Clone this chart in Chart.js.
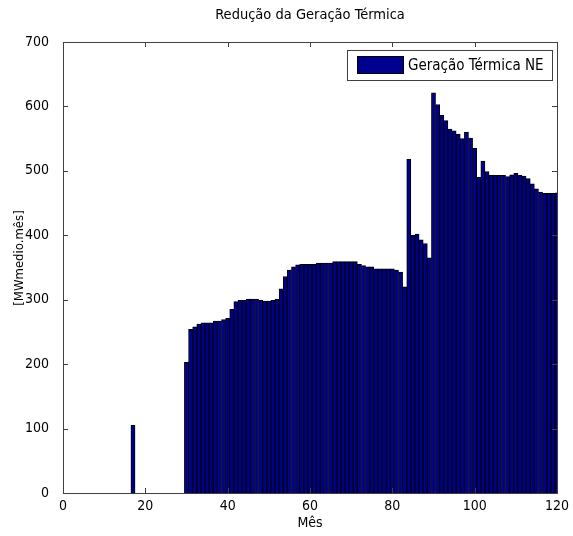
<!DOCTYPE html>
<html>
<head>
<meta charset="utf-8">
<script src="https://cdn.jsdelivr.net/npm/chart.js@4.4.1/dist/chart.umd.min.js"></script>
<style>
  body { margin: 0; background: #fff; }
  canvas { display: block; }
</style>
</head>
<body>
<canvas id="grafico" width="573" height="536"></canvas>
<script>
// valores (MWmedio.mes por mes, 1..120)
const geracaoNE = [
  0, 0, 0, 0, 0, 0, 0, 0, 0, 0,
  0, 0, 0, 0, 0, 0, 105, 0, 0, 0,
  0, 0, 0, 0, 0, 0, 0, 0, 0, 203,
  254, 258, 262, 264, 264, 264, 267, 267, 269, 271,
  285, 297, 299, 299, 301, 301, 301, 299, 298, 298,
  299, 301, 317, 336, 346, 351, 354, 355, 355, 355,
  355, 357, 357, 357, 357, 359, 359, 359, 359, 359,
  359, 355, 353, 351, 351, 348, 348, 348, 348, 348,
  346, 343, 320, 518, 400, 402, 393, 387, 365, 621,
  603, 586, 578, 565, 562, 557, 550, 560, 551, 535,
  490, 515, 499, 493, 493, 493, 493, 491, 494, 496,
  493, 492, 488, 480, 472, 467, 465, 465, 465, 466
];
const meses = [];
for (let i = 0; i < geracaoNE.length; i++) {
  meses.push(i + 1);
}
const ticksX = [0, 20, 40, 60, 80, 100, 120];
const ticksY = [0, 100, 200, 300, 400, 500, 600, 700];

const titulo = "Redução da Geração Térmica";
const rotuloX = "Mês";
const rotuloY = "[MWmedio.mês]";
const nomeSerie = "Geração Térmica NE";

const fonte = "'DejaVu Sans Condensed', 'Liberation Sans', sans-serif";
const corBarra = "#00008f";
const corEixo = "#404040";

// moldura, ticks para dentro, titulos e legenda no estilo do matlab
const estiloMatlab = {
  id: "estiloMatlab",
  afterDraw(chart) {
    const ctx = chart.ctx;
    const area = chart.chartArea;
    const sx = chart.scales.x;
    const sy = chart.scales.y;

    ctx.save();
    ctx.strokeStyle = corEixo;
    ctx.lineWidth = 1;
    ctx.strokeRect(Math.round(area.left) + 0.5, Math.round(area.top) + 0.5,
      Math.round(area.right - area.left), Math.round(area.bottom - area.top));

    ctx.beginPath();
    ticksX.forEach(function (v) {
      const px = Math.round(sx.getPixelForValue(v)) + 0.5;
      ctx.moveTo(px, area.bottom);
      ctx.lineTo(px, area.bottom - 5);
      ctx.moveTo(px, area.top);
      ctx.lineTo(px, area.top + 5);
    });
    ticksY.forEach(function (v) {
      const py = Math.round(sy.getPixelForValue(v)) + 0.5;
      ctx.moveTo(area.left, py);
      ctx.lineTo(area.left + 5, py);
      ctx.moveTo(area.right, py);
      ctx.lineTo(area.right - 5, py);
    });
    ctx.stroke();

    ctx.fillStyle = "#000";
    ctx.font = "14.5px " + fonte;
    ctx.textAlign = "center";
    ctx.textBaseline = "middle";
    ctx.fillText(titulo, (area.left + area.right) / 2, 15);
    ctx.font = "14px " + fonte;
    ctx.fillText(rotuloX, (area.left + area.right) / 2, 523);

    ctx.save();
    ctx.font = "13px " + fonte;
    ctx.translate(20, 258);
    ctx.rotate(-Math.PI / 2);
    ctx.fillText(rotuloY, 0, 0);
    ctx.restore();

    // legenda
    const lx = 347.5, ly = 50.5, lw = 205, lh = 30;
    ctx.fillStyle = "#fff";
    ctx.fillRect(lx, ly, lw, lh);
    ctx.strokeStyle = corEixo;
    ctx.strokeRect(lx, ly, lw, lh);
    ctx.fillStyle = corBarra;
    ctx.fillRect(357, 56, 47, 18);
    ctx.strokeStyle = "#000";
    ctx.strokeRect(357.5, 56.5, 46, 17);
    ctx.fillStyle = "#000";
    ctx.font = "15px " + fonte;
    ctx.textAlign = "left";
    ctx.fillText(nomeSerie, 408, 66);
    ctx.restore();
  }
};

function montarGrafico() {
  const pontos = meses.map(function (m, i) {
    return { x: m, y: geracaoNE[i] };
  });

  const config = {
    type: "bar",
    data: {
      datasets: [
        {
          label: nomeSerie,
          data: pontos,
          backgroundColor: function (c) {
            return c.raw && c.raw.y > 0 ? corBarra : "rgba(0,0,0,0)";
          },
          borderColor: "#000",
          borderWidth: function (c) {
            return c.raw && c.raw.y > 0 ? 1 : 0;
          },
          barPercentage: 1,
          categoryPercentage: 1,
        },
      ],
    },
    options: {
      responsive: false,
      animation: false,
      layout: { padding: { top: 42, right: 16, left: 0, bottom: 0 } },
      plugins: {
        legend: { display: false },
        title: { display: false },
        tooltip: { enabled: false },
      },
      scales: {
        x: {
          type: "linear",
          min: 0,
          max: 120,
          offset: false,
          afterBuildTicks: function (s) {
            s.ticks = ticksX.map(function (v) { return { value: v }; });
          },
          ticks: { color: "#000", padding: -3, font: { family: fonte, size: 14 } },
          grid: { display: false },
          border: { display: false },
          afterFit: function (s) { s.height = 43; },
        },
        y: {
          min: 0,
          max: 700,
          afterBuildTicks: function (s) {
            s.ticks = ticksY.map(function (v) { return { value: v }; });
          },
          ticks: { color: "#000", padding: 6, font: { family: fonte, size: 14 } },
          grid: { display: false },
          border: { display: false },
          afterFit: function (s) { s.width = 63; },
        },
      },
    },
    plugins: [estiloMatlab],
  };

  new Chart(document.getElementById("grafico"), config);
}

montarGrafico();
</script>
</body>
</html>
